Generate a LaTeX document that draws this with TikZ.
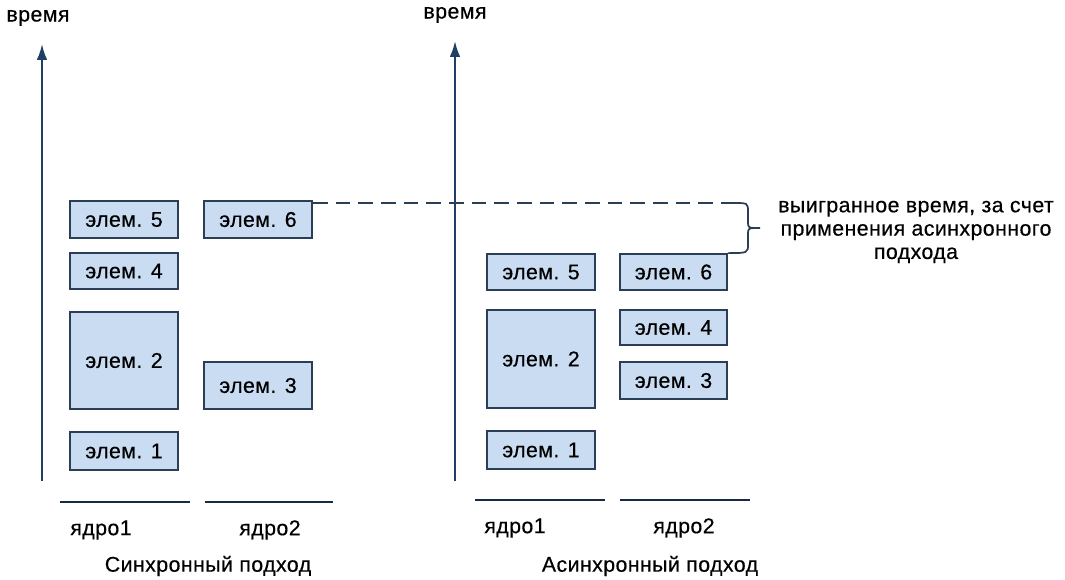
\documentclass[tikz,border=0pt]{standalone}
\usepackage{fontspec}
\setmainfont{Liberation Sans}[FakeBold=0.4, LetterSpace=2]
\usetikzlibrary{arrows.meta}
\definecolor{boxfill}{HTML}{C9DCF2}
\definecolor{boxline}{HTML}{2B3E55}
\definecolor{axisc}{HTML}{1F3F63}
\tikzset{
  elem/.style={draw=boxline, line width=1.3pt, fill=boxfill, minimum width=81pt, inner sep=0pt,
    font=\fontsize{16}{18}\selectfont},
  axisline/.style={draw=axisc, line width=1.6pt, -{Latex[length=12pt,width=8pt]}},
  baseln/.style={draw=axisc!70!black, line width=1.1pt},
  lbl/.style={font=\fontsize{16}{17.5}\selectfont, inner sep=0pt},
  dashln/.style={draw=boxline, line width=1.3pt, dash pattern=on 11pt off 6pt},
}
\begin{document}
\begin{tikzpicture}[x=0.75pt,y=-0.75pt]
\useasboundingbox (0,0) rectangle (1065,580);
% axes
\coordinate (aL0) at (42,481); \coordinate (aL1) at (42,44);
\coordinate (aR0) at (455,481); \coordinate (aR1) at (455,41);
\draw[axisline] (aL0) -- (aL1);
\draw[axisline] (aR0) -- (aR1);
\node[lbl] (tL) at (38,18) {время};
\node[lbl] (tR) at (455,15) {время};
% left boxes
\node[elem, minimum height=27.75pt] (e5L) at (124,219.5) {элем. 5};
\node[elem, minimum height=27pt] (e4L) at (124,271) {элем. 4};
\node[elem, minimum height=72.75pt] (e2L) at (124,360.5) {элем. 2};
\node[elem, minimum height=28.5pt] (e1L) at (124,451) {элем. 1};
\node[elem, minimum height=27.75pt] (e6L) at (258,219.5) {элем. 6};
\node[elem, minimum height=35.25pt] (e3L) at (258,385.5) {элем. 3};
% right boxes
\node[elem, minimum height=27pt] (e5R) at (541,272) {элем. 5};
\node[elem, minimum height=73.5pt] (e2R) at (541,359) {элем. 2};
\node[elem, minimum height=28.5pt] (e1R) at (541,450) {элем. 1};
\node[elem, minimum height=27pt, minimum width=80.25pt] (e6R) at (673.5,272) {элем. 6};
\node[elem, minimum height=26.25pt, minimum width=80.25pt] (e4R) at (673.5,327.5) {элем. 4};
\node[elem, minimum height=27.75pt, minimum width=80.25pt] (e3R) at (673.5,380.5) {элем. 3};
% base lines
\coordinate (b1a) at (60,502); \coordinate (b1b) at (190,502);
\coordinate (b2a) at (205,502); \coordinate (b2b) at (333,502);
\coordinate (b3a) at (475,500); \coordinate (b3b) at (605,500);
\coordinate (b4a) at (620,500); \coordinate (b4b) at (750,500);
\draw[baseln] (b1a) -- (b1b);
\draw[baseln] (b2a) -- (b2b);
\draw[baseln] (b3a) -- (b3b);
\draw[baseln] (b4a) -- (b4b);
\node[lbl] (c1L) at (101,530) {ядро1};
\node[lbl] (c2L) at (270,530) {ядро2};
\node[lbl] (c1R) at (515,528) {ядро1};
\node[lbl] (c2R) at (684,528) {ядро2};
\node[lbl] (capL) at (208,566) {Синхронный подход};
\node[lbl] (capR) at (650,566) {Асинхронный подход};
% dashed line and brace
\coordinate (dS) at (313,203);
\coordinate (dE) at (733,203);
\draw[dashln] (dS) -- (dE);
\draw[draw=boxline, line width=1.3pt] (dE) .. controls (748,203) .. (748,212) -- (748,222)
  .. controls (748,228) .. (760,228) .. controls (748,228) .. (748,234) -- (748,244)
  .. controls (748,253) .. (e6R.north east);
\node[lbl, align=center] (note) at (916,232) {выигранное время, за счет\\применения асинхронного\\подхода};
\end{tikzpicture}
\end{document}
